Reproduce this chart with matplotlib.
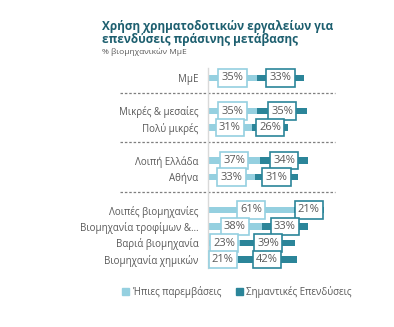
import matplotlib
matplotlib.use("Agg")
import matplotlib.pyplot as plt
from matplotlib.patches import Patch

categories = ["ΜμΕ", "Μικρές & μεσαίες", "Πολύ μικρές", "Λοιπή Ελλάδα", "Αθήνα",
              "Λοιπές βιομηχανίες", "Βιομηχανία τροφίμων &…", "Βαριά βιομηχανία",
              "Βιομηχανία χημικών"]
soft = [35, 35, 31, 37, 33, 61, 38, 23, 21]
major = [33, 35, 26, 34, 31, 21, 33, 39, 42]
group_sizes = [1, 2, 2, 4]
series_names = ["Ήπιες παρεμβάσεις", "Σημαντικές Επενδύσεις"]

LIGHT = "#95d0e0"
DARK = "#2b8599"
GREY = "#595959"
TITLE = "#1d5f6f"

plt.rcParams["font.family"] = ["Open Sans", "DejaVu Sans"]

W, H = 394, 327
fig = plt.figure(figsize=(W / 100, H / 100), dpi=100)

# row positions: one empty row between groups
ypos, seps = [], []
y = 0
for gi, n in enumerate(group_sizes):
    for _ in range(n):
        ypos.append(y)
        y += 1
    if gi < len(group_sizes) - 1:
        seps.append(y - 0.1)
        y += 1

row_px = 16.5
top_px = 78 - 0.6 * row_px
bot_px = 78 + 11.5 * row_px
left_px = 208
px_per_pct = 1.41
ax = fig.add_axes([left_px / W, 1 - bot_px / H, (W - left_px) / W, (bot_px - top_px) / H])
ax.set_xlim(0, (W - left_px) / px_per_pct)
ax.set_ylim(11.5, -0.6)

ax.barh(ypos, soft, height=0.42, color=LIGHT)
ax.barh(ypos, major, left=soft, height=0.42, color=DARK)

for yy, s, m in zip(ypos, soft, major):
    ax.text(s / 2, yy, f"{s}%", ha="center", va="center", fontsize=8, color=GREY,
            bbox=dict(boxstyle="square,pad=0.3", fc="white", ec=LIGHT, lw=1.2))
    ax.text(s + m / 2, yy, f"{m}%", ha="center", va="center", fontsize=8, color=GREY,
            bbox=dict(boxstyle="square,pad=0.3", fc="white", ec=DARK, lw=1.2))

for sy in seps:
    ax.plot([-88 / px_per_pct, 127 / px_per_pct], [sy, sy], ls=(0, (2, 1.5)), lw=0.9,
            color="#7f7f7f", clip_on=False)

ax.set_yticks(ypos)
ax.set_yticklabels(categories, fontsize=7, color=GREY)
ax.tick_params(axis="y", length=0, pad=7)
ax.set_xticks([])
for side in ["top", "right", "bottom"]:
    ax.spines[side].set_visible(False)
ax.spines["left"].set_color("#d9d9d9")
ax.spines["left"].set_linewidth(1)

fig.text(102 / W, 1 - 20 / H, "Χρήση χρηματοδοτικών εργαλείων για\nεπενδύσεις πράσινης μετάβασης",
         fontsize=8.5, fontweight="bold", color=TITLE, va="top", ha="left", linespacing=1.0)
fig.text(102 / W, 1 - 52 / H, "% βιομηχανικών ΜμΕ", fontsize=6, color=GREY,
         va="center", ha="left")

handles = [Patch(color=LIGHT), Patch(color=DARK)]
fig.legend(handles, series_names, loc="center", bbox_to_anchor=(237 / W, 1 - 292 / H), ncol=2,
           frameon=False, fontsize=7, labelcolor=GREY, handlelength=0.7, handleheight=0.7,
           handletextpad=0.4, columnspacing=1.5)

fig.savefig("out.png", dpi=100)
